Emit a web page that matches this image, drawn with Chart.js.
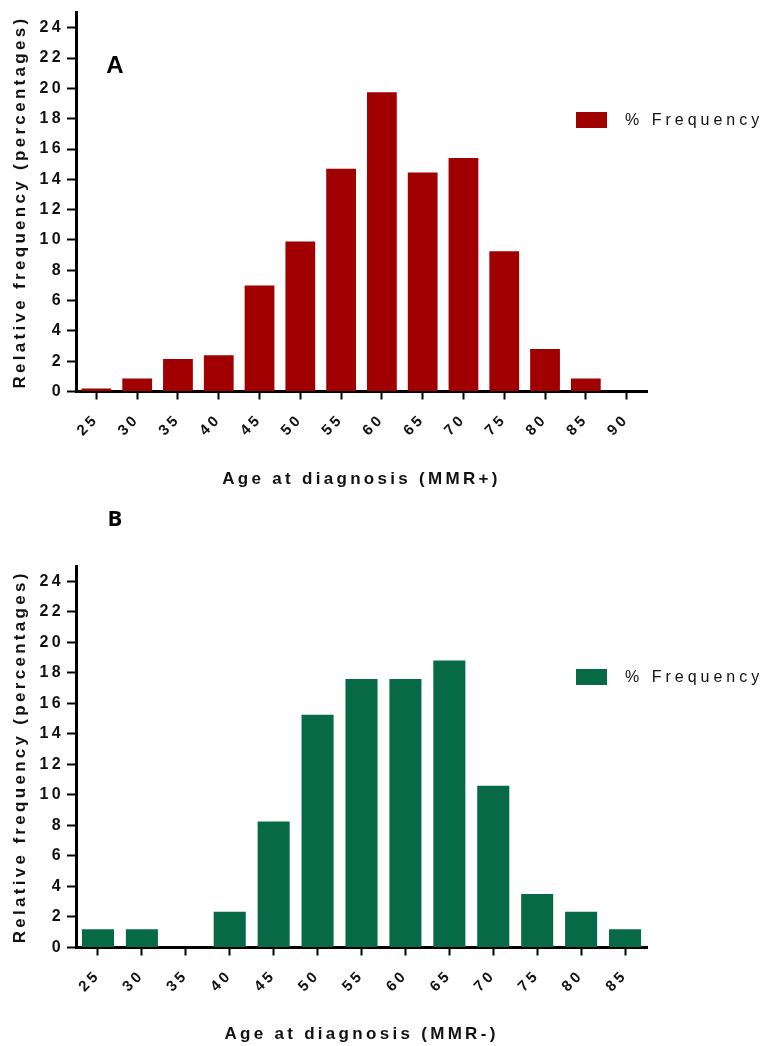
<!DOCTYPE html>
<html>
<head>
<meta charset="utf-8">
<script src="https://cdn.jsdelivr.net/npm/chart.js@4.4.1/dist/chart.umd.min.js"></script>
<style>
  body { margin: 0; background: #fff; }
  canvas { display: block; }
</style>
</head>
<body>
<canvas id="chartA" width="766" height="500"></canvas>
<canvas id="chartB" width="766" height="546"></canvas>
<script>
// data
const agesA = ['25', '30', '35', '40', '45', '50', '55', '60', '65', '70', '75', '80', '85', '90'];
const freqA = [0.2, 0.85, 2.15, 2.4, 7.0, 9.9, 14.7, 19.75, 14.45, 15.4, 9.25, 2.8, 0.85, 0];
const agesB = ['25', '30', '35', '40', '45', '50', '55', '60', '65', '70', '75', '80', '85'];
const freqB = [1.2, 1.2, 0, 2.35, 8.25, 15.25, 17.6, 17.6, 18.8, 10.6, 3.5, 2.35, 1.2];
const yTicks = [0, 2, 4, 6, 8, 10, 12, 14, 16, 18, 20, 22, 24];

const fontFamily = '"Liberation Sans", Arial, sans-serif';

// espacement des lettres (comme dans la figure d'origine)
const spacing = {
    id: 'spacing',
    beforeLayout(chart) { chart.ctx.letterSpacing = '3.3px'; },
    beforeDraw(chart) { chart.ctx.letterSpacing = '3.3px'; }
};

// lettre du panneau + légende
const extras = {
    id: 'extras',
    afterDraw(chart, args, opts) {
        const ctx = chart.ctx;
        const ds = chart.data.datasets[0];
        ctx.save();
        ctx.letterSpacing = '0px';
        ctx.fillStyle = '#000';
        ctx.font = opts.letterFont;
        ctx.textAlign = 'center';
        ctx.textBaseline = 'middle';
        ctx.fillText(opts.letter, opts.letterX, opts.letterY);

        ctx.fillStyle = ds.backgroundColor;
        ctx.fillRect(opts.legendX, opts.legendY - 8, 31, 16);
        ctx.letterSpacing = '4px';
        ctx.fillStyle = '#111';
        ctx.font = '16px ' + fontFamily;
        ctx.textAlign = 'left';
        ctx.fillText(ds.label, opts.legendX + 49, opts.legendY + 1);
        ctx.restore();
    }
};

function makeChart(id, labels, values, color, xTitle, plotTop, canvasH, extra) {
    const ctx = document.getElementById(id).getContext('2d');
    return new Chart(ctx, {
        type: 'bar',
        data: {
            labels: labels,
            datasets: [{
                label: '% Frequency',
                data: values,
                backgroundColor: color,
                borderWidth: 0,
                categoryPercentage: 1,
                barPercentage: 0.73
            }]
        },
        options: {
            responsive: false,
            animation: false,
            layout: { padding: { top: plotTop, right: 119, left: 0, bottom: 0 } },
            plugins: {
                legend: { display: false },
                tooltip: { enabled: false },
                extras: extra
            },
            scales: {
                x: {
                    grid: { offset: false, drawOnChartArea: false, drawTicks: true, tickLength: 8, tickWidth: 2, tickColor: '#000' },
                    border: { display: true, color: '#000', width: 3 },
                    ticks: {
                        autoSkip: false,
                        maxRotation: 45,
                        minRotation: 45,
                        padding: 11,
                        color: '#111',
                        font: { family: fontFamily, size: 15, weight: 'bold' }
                    },
                    title: {
                        display: true,
                        text: xTitle,
                        color: '#111',
                        font: { family: fontFamily, size: 17, weight: 'bold' },
                        padding: { top: 0, bottom: canvasH === 500 ? 10 : 1 }
                    },
                    afterFit: (scale) => { scale.height = canvasH - 391.5 - (canvasH === 500 ? 0 : 56); }
                },
                y: {
                    min: 0,
                    max: 25,
                    grid: { drawOnChartArea: false, drawTicks: true, tickLength: 9, tickWidth: 2, tickColor: '#000' },
                    border: { display: true, color: '#000', width: 3 },
                    ticks: {
                        stepSize: 2,
                        includeBounds: false,
                        padding: 3,
                        color: '#111',
                        font: { family: fontFamily, size: 16, weight: 'bold' },
                        callback: (v) => yTicks.includes(v) ? v : ''
                    },
                    title: {
                        display: true,
                        text: 'Relative frequency (percentages)',
                        color: '#111',
                        font: { family: fontFamily, size: 17, weight: 'bold' },
                        padding: { top: 10, bottom: 0 }
                    },
                    afterFit: (scale) => { scale.width = 76; }
                }
            }
        },
        plugins: [spacing, extras]
    });
}

makeChart('chartA', agesA, freqA, 'rgb(160, 0, 0)', 'Age at diagnosis (MMR+)', 8, 500,
    { letter: 'A', letterFont: 'bold 24px ' + fontFamily, letterX: 115, letterY: 66, legendX: 576, legendY: 120 });
makeChart('chartB', agesB, freqB, 'rgb(7, 106, 70)', 'Age at diagnosis (MMR-)', 66, 546,
    { letter: 'B', letterFont: 'bold 22px "Open Sans", ' + fontFamily, letterX: 115, letterY: 20, legendX: 576, legendY: 177 });
</script>
</body>
</html>
